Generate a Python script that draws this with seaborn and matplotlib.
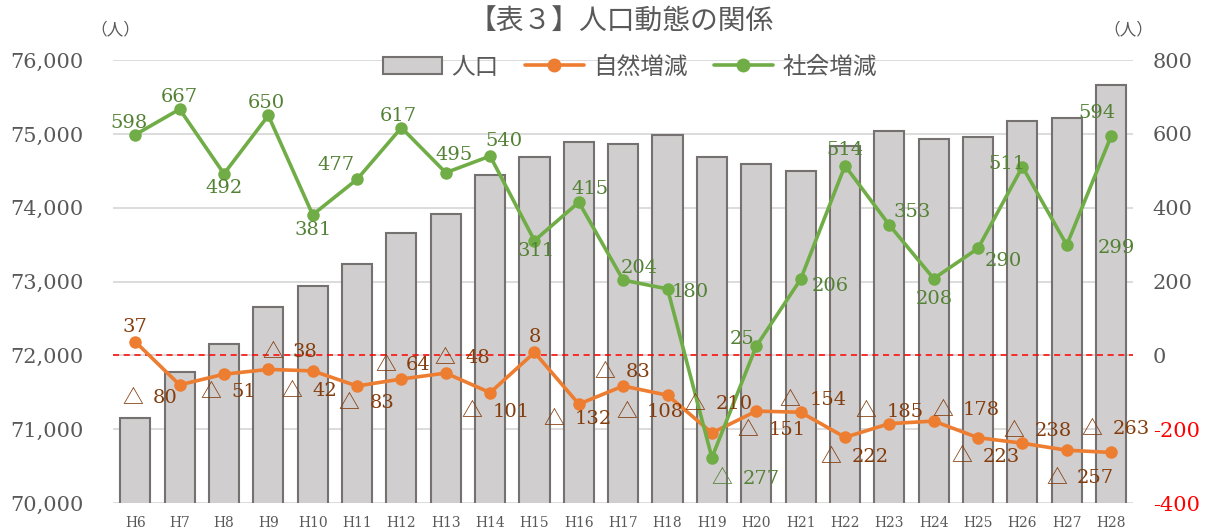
import numpy as np
import pandas as pd
import matplotlib.pyplot as plt
import seaborn as sns
from matplotlib.patches import Patch
from matplotlib.lines import Line2D

# =============================================================================
# Data
# =============================================================================
years = ['H6', 'H7', 'H8', 'H9', 'H10', 'H11', 'H12', 'H13', 'H14', 'H15', 'H16',
         'H17', 'H18', 'H19', 'H20', 'H21', 'H22', 'H23', 'H24', 'H25', 'H26',
         'H27', 'H28']
population = [71150, 71775, 72155, 72655, 72940, 73235, 73655, 73915, 74440,
              74685, 74890, 74865, 74985, 74685, 74590, 74495, 74835, 75040,
              74930, 74955, 75175, 75215, 75660]
natural = [37, -80, -51, -38, -42, -83, -64, -48, -101, 8, -132, -83, -108,
           -210, -151, -154, -222, -185, -178, -223, -238, -257, -263]
social = [598, 667, 492, 650, 381, 477, 617, 495, 540, 311, 415, 204, 180,
          -277, 25, 206, 514, 353, 208, 290, 511, 299, 594]

# label offsets in pixels (dx, dy up)
social_off = [(-6, 12), (0, 12), (0, -14), (-2, 12), (0, -15), (-21, 14), (-3, 12),
              (8, 18), (14, 15), (2, -10), (11, 13), (16, 12), (23, -3), (34, -21),
              (-14, 7), (30, -7), (0, 16), (23, 13), (1, -20), (25, -13), (-15, 3),
              (50, -3), (-14, 23)]
natural_off = [(0, 15), (-29, -13), (5, -18), (22, 17), (-3, -20), (10, -17), (2, 14),
               (17, 15), (6, -19), (0, 15), (-1, -15), (0, 14), (-17, -17), (7, 29),
               (16, -19), (13, 12), (10, -20), (1, 12), (33, 11), (8, -19), (16, 12),
               (14, -28), (5, 23)]

df = pd.DataFrame({'year': years, 'pop': population,
                   'natural': natural, 'social': social})
df['pos'] = np.arange(len(df))

# =============================================================================
# Style
# =============================================================================
sns.set_theme(style='white')
serif = ['DejaVu Serif', 'DejaVu Sans']
jp = ['Noto Sans CJK JP', 'DejaVu Sans']
plt.rcParams['font.family'] = serif

gray_txt = '#595959'
bar_fill = '#D0CECE'
bar_edge = '#767171'
orange = '#ED7D31'
green = '#70AD47'
orange_lbl = '#843C0C'
green_lbl = '#538135'

fig, ax = plt.subplots(figsize=(12.16, 5.32), dpi=100)
fig.subplots_adjust(left=0.093, right=0.932, top=0.887, bottom=0.0545)

# bars - population
sns.barplot(data=df, x='pos', y='pop', ax=ax, color=bar_fill, width=0.68,
            edgecolor=bar_edge, linewidth=1.5, saturation=1, native_scale=True)
ax.set_ylim(70000, 76000)
ax.set_xlim(-0.5, len(df) - 0.5)
ax.set_yticks(np.arange(70000, 76001, 1000))
ax.set_yticklabels([f'{v:,}' for v in range(70000, 76001, 1000)],
                   fontsize=15, color=gray_txt)
ax.set_xticks(df['pos'])
ax.set_xticklabels(years, fontsize=10, color=gray_txt)
ax.tick_params(axis='y', length=0, pad=21)
ax.tick_params(axis='x', length=0, pad=9)
ax.yaxis.grid(True, color='#D9D9D9', linewidth=1.3)
ax.set_axisbelow(True)
ax.set_xlabel('')
ax.set_ylabel('')
for s in ax.spines.values():
    s.set_visible(False)

# lines - right axis
ax2 = ax.twinx()
ax2.axhline(0, color='#FF0000', linestyle=(0, (4, 3)), linewidth=1.1, zorder=1)
sns.lineplot(data=df, x='pos', y='natural', ax=ax2, color=orange, marker='o',
             markersize=9, markeredgewidth=0, linewidth=2.6, sort=False, zorder=3)
sns.lineplot(data=df, x='pos', y='social', ax=ax2, color=green, marker='o',
             markersize=9, markeredgewidth=0, linewidth=2.6, sort=False, zorder=4)
ax2.set_ylim(-400, 800)
ax2.set_yticks(np.arange(-400, 801, 200))
ax2.set_yticklabels([str(v) for v in range(-400, 801, 200)], fontsize=15)
for t, v in zip(ax2.get_yticklabels(), range(-400, 801, 200)):
    t.set_color('#FF0000' if v < 0 else gray_txt)
ax2.tick_params(axis='y', length=0, pad=14)
ax2.set_xlabel('')
ax2.set_ylabel('')
for s in ax2.spines.values():
    s.set_visible(False)


def put_label(i, v, off, color):
    # negative values are written as "△ N" with a full-width triangle
    dx, dy = off
    if v >= 0:
        ax2.annotate(str(v), (i, v), xytext=(dx, dy), textcoords='offset pixels',
                     ha='center', va='center', fontsize=14, color=color,
                     family=serif, zorder=6)
        return
    num = str(abs(v))
    total = 30 + 12.4 * len(num)
    left = dx - total / 2
    ax2.annotate('△', (i, v), xytext=(left - 1, dy + 1), textcoords='offset pixels',
                 ha='left', va='center', fontsize=15, color=color,
                 family=jp, zorder=6)
    ax2.annotate(num, (i, v), xytext=(left + 30, dy), textcoords='offset pixels',
                 ha='left', va='center', fontsize=14, color=color,
                 family=serif, zorder=6)


for i, v in enumerate(social):
    put_label(i, v, social_off[i], green_lbl)
for i, v in enumerate(natural):
    put_label(i, v, natural_off[i], orange_lbl)

# title, units, legend
fig.text(0.511, 0.959, '【表３】人口動態の関係', ha='center', va='center',
         fontsize=20, color=gray_txt, family=jp)
fig.text(0.095, 0.943, '（人）', ha='center', va='center', fontsize=12,
         color=gray_txt, family=jp)
fig.text(0.928, 0.943, '（人）', ha='center', va='center', fontsize=12,
         color=gray_txt, family=jp)

handles = [Patch(facecolor=bar_fill, edgecolor=bar_edge, linewidth=1.5),
           Line2D([], [], color=orange, marker='o', markersize=9, linewidth=2.6),
           Line2D([], [], color=green, marker='o', markersize=9, linewidth=2.6)]
leg = fig.legend(handles, ['人口', '自然増減', '社会増減'], loc='center',
                 bbox_to_anchor=(0.518, 0.874), ncol=3, frameon=False,
                 prop={'family': jp, 'size': 17}, handlelength=2.5,
                 columnspacing=1.1, handletextpad=0.4)
for t in leg.get_texts():
    t.set_color(gray_txt)

plt.savefig('out.png', dpi=100)
